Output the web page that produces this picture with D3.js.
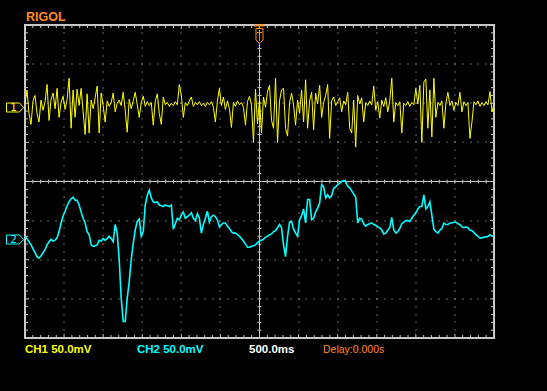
<!DOCTYPE html>
<html><head><meta charset="utf-8">
<script src="https://cdn.jsdelivr.net/npm/d3@7"></script>
<style>html,body{margin:0;padding:0;background:#000;overflow:hidden}svg{display:block}</style>
</head><body>
<svg id="scope" width="547" height="391"></svg>
<script>
// ---- data (mV), CH1 and CH2 samples across the 6 s screen ----
const ch1Values = [4,22,-8,-22,8,15,-8,-19,9,-4,7,29,-17,10,18,-2,24,-13,6,14,
-3,10,37,-27,22,-13,23,2,24,-6,-35,17,-33,9,-2,12,27,-33,18,2,
-19,8,1,6,18,-6,5,9,2,19,-4,-32,10,-2,8,19,3,-13,6,14,
1,7,2,6,-23,8,17,-8,-22,13,3,6,1,5,2,7,3,29,15,-13,
6,2,8,13,1,6,3,7,2,5,1,6,3,7,0,-19,8,24,2,13,
-3,8,-2,-26,6,1,8,3,6,0,-23,7,14,3,-45,23,-21,10,-33,13,
0,20,28,-17,-27,37,-45,8,22,24,-27,-37,6,18,3,-23,9,-8,22,-19,
35,-27,8,19,-29,18,4,28,-13,6,15,29,-40,8,13,2,7,12,-6,8,
3,19,-27,-33,9,-51,15,4,12,-19,6,2,8,3,27,-4,7,-14,9,1,
12,-6,8,37,-19,6,2,7,-33,5,2,7,1,6,3,24,4,28,-45,32,
36,-27,22,-38,37,-13,6,2,8,-27,5,19,2,8,-4,6,2,19,-6,7,
2,6,-40,-19,7,3,8,1,6,2,7,3,20,-6,4];
const ch2Values = [4,1,-3,-7,-12,-17,-22,-24,-21,-17,-13,-7,-3,0,-2,-1,2,10,21,30,
36,43,48,52,54,50,50,44,35,27,21,10,6,-7,-9,-8,-7,-1,-2,1,
-1,1,4,1,-3,19,8,-26,-75,-105,-105,-75,-54,-26,-5,12,23,26,4,10,
44,56,63,53,48,47,48,44,43,42,44,43,42,44,13,20,27,25,31,35,
27,29,31,34,27,24,33,27,8,19,27,36,22,29,31,29,25,16,19,21,
21,17,14,10,8,8,6,4,1,-2,-6,-10,-10,-9,-8,-7,-4,-2,-1,0,
3,4,6,7,10,11,15,19,15,-7,-22,4,22,23,13,8,4,25,30,39,
21,51,51,25,27,35,40,46,70,67,53,57,53,56,65,67,70,72,74,75,
74,68,66,62,58,54,21,27,26,20,17,19,20,21,19,18,16,15,12,7,
8,12,15,28,12,8,10,14,20,22,24,24,23,27,31,34,39,42,42,57,
39,42,48,31,13,10,8,12,14,21,19,19,21,21,22,22,20,19,16,15,
16,15,12,11,9,6,4,2,2,3,3,4,6,4,4];
const timePerDiv = 500;   // ms / div
const voltPerDiv = 50;    // mV / div
const hDivs = 12, vDivs = 8, subDivs = 5;
const ch1Offset = 95;     // mV
const ch2Offset = -74;    // mV
const brandLabel = "RIGOL";
const statusLabels = ["CH1 50.0mV", "CH2 50.0mV", "500.0ms", "Delay:0.000s"];
const statusColors = ["#ffff00", "#00ffff", "#ffffff", "#ff8c1a"];
const channelNames = ["1", "2"];

// ---- scales ----
const svg = d3.select("#scope");
const frame = {x0: 25, x1: 494, y0: 25, y1: 338};
const tHalf = timePerDiv * hDivs / 2;
const vHalf = voltPerDiv * vDivs / 2;
const x = d3.scaleLinear().domain([-tHalf, tHalf]).range([frame.x0, frame.x1]);
const y = d3.scaleLinear().domain([-vHalf, vHalf]).range([frame.y1, frame.y0]);

svg.append("rect").attr("width", 547).attr("height", 391).attr("fill", "#000");

const gridCol = "#c8c8c8";
const majorT = d3.range(-tHalf, tHalf + 1, timePerDiv);
const minorT = d3.range(-tHalf, tHalf + 1, timePerDiv / subDivs);
const majorV = d3.range(-vHalf, vHalf + 1, voltPerDiv);
const minorV = d3.range(-vHalf, vHalf + 1, voltPerDiv / subDivs);

// dotted grid
const g = svg.append("g");
const dots = [];
majorT.slice(1, -1).forEach(t => { if (t !== 0) minorV.slice(1, -1).forEach(v => dots.push([t, v])); });
majorV.slice(1, -1).forEach(v => { if (v !== 0) minorT.slice(1, -1).forEach(t => dots.push([t, v])); });
g.selectAll("rect.dot").data(dots).join("rect").attr("class", "dot")
  .attr("x", d => Math.round(x(d[0])) - 0.5).attr("y", d => Math.round(y(d[1])) - 0.5)
  .attr("width", 1).attr("height", 1).attr("fill", gridCol);

// center lines
g.append("line").attr("x1", x(0)).attr("x2", x(0)).attr("y1", frame.y0).attr("y2", frame.y1)
  .attr("stroke", gridCol).attr("stroke-width", 1);
g.append("line").attr("y1", y(0)).attr("y2", y(0)).attr("x1", frame.x0).attr("x2", frame.x1)
  .attr("stroke", gridCol).attr("stroke-width", 1);
g.selectAll("line.ct").data(minorV.slice(1, -1)).join("line").attr("class", "ct")
  .attr("x1", x(0) - 2).attr("x2", x(0) + 2).attr("y1", d => y(d)).attr("y2", d => y(d))
  .attr("stroke", gridCol);
g.selectAll("line.cv").data(minorT.slice(1, -1)).join("line").attr("class", "cv")
  .attr("y1", y(0) - 2).attr("y2", y(0) + 2).attr("x1", d => x(d)).attr("x2", d => x(d))
  .attr("stroke", gridCol);

// border ticks
const tl = d => (majorT.includes(d) ? 4 : 3);
const vl = d => (majorV.includes(d) ? 4 : 3);
g.selectAll("line.bt").data(minorT.slice(1, -1)).join("line").attr("class", "bt")
  .attr("x1", d => x(d)).attr("x2", d => x(d)).attr("y1", frame.y0).attr("y2", d => frame.y0 + tl(d))
  .attr("stroke", gridCol);
g.selectAll("line.bb").data(minorT.slice(1, -1)).join("line").attr("class", "bb")
  .attr("x1", d => x(d)).attr("x2", d => x(d)).attr("y1", frame.y1).attr("y2", d => frame.y1 - tl(d))
  .attr("stroke", gridCol);
g.selectAll("line.bl").data(minorV.slice(1, -1)).join("line").attr("class", "bl")
  .attr("y1", d => y(d)).attr("y2", d => y(d)).attr("x1", frame.x0).attr("x2", d => frame.x0 + vl(d))
  .attr("stroke", gridCol);
g.selectAll("line.br").data(minorV.slice(1, -1)).join("line").attr("class", "br")
  .attr("y1", d => y(d)).attr("y2", d => y(d)).attr("x1", frame.x1).attr("x2", d => frame.x1 - vl(d))
  .attr("stroke", gridCol);

// frame
g.append("rect").attr("x", frame.x0).attr("y", frame.y0)
  .attr("width", frame.x1 - frame.x0).attr("height", frame.y1 - frame.y0)
  .attr("fill", "none").attr("stroke", gridCol).attr("stroke-width", 2);

// traces
const tOf = (i, n) => -tHalf + (2 * tHalf) * i / (n - 1);
function trace(values, offset, color, width) {
  const line = d3.line().x((d, i) => x(tOf(i, values.length))).y(d => y(d + offset));
  svg.append("path").datum(values).attr("d", line).attr("fill", "none")
    .attr("stroke", color).attr("stroke-width", width).attr("stroke-linejoin", "miter");
}
trace(ch1Values, ch1Offset, "#ffff00", 1.0);
trace(ch2Values, ch2Offset, "#00ffff", 1.6);

// channel markers
function marker(offset, name, color) {
  const cy = Math.round(y(offset)) + 0.5;
  const pts = [[6.5, cy - 4.5], [19.5, cy - 4.5], [23.5, cy], [19.5, cy + 4.5], [6.5, cy + 4.5]];
  svg.append("polygon").attr("points", pts.map(p => p.join(",")).join(" "))
    .attr("fill", "none").attr("stroke", color).attr("stroke-width", 1);
  svg.append("text").attr("x", 13.5).attr("y", cy + 3.8).attr("text-anchor", "middle")
    .attr("font-family", "DejaVu Sans, sans-serif").attr("font-size", 10.5).attr("fill", color).text(name);
}
marker(ch1Offset, channelNames[0], "#ffff00");
marker(ch2Offset, channelNames[1], "#00ffff");

// trigger marker
const trig = "#ff8c1a";
const tx = x(0);
svg.append("rect").attr("x", tx - 5).attr("y", 24.5).attr("width", 10).attr("height", 2).attr("fill", trig);
svg.append("polygon")
  .attr("points", [[tx - 3.5, 28.5], [tx + 3.5, 28.5], [tx + 3.5, 40], [tx, 43.5], [tx - 3.5, 40]].map(p => p.join(",")).join(" "))
  .attr("fill", "#000").attr("stroke", trig).attr("stroke-width", 1);
svg.append("line").attr("x1", tx - 2.5).attr("x2", tx + 2.5).attr("y1", 32.5).attr("y2", 32.5).attr("stroke", trig);
svg.append("line").attr("x1", tx).attr("x2", tx).attr("y1", 30).attr("y2", 41).attr("stroke", trig);

// labels
svg.append("text").attr("x", 26).attr("y", 21).attr("font-family", "Liberation Sans, Arial, sans-serif")
  .attr("font-weight", "bold").attr("font-size", 12.5).attr("fill", "#ff8c1a").text(brandLabel);
const statusX = [25, 137, 249, 323];
statusLabels.forEach((s, i) => {
  svg.append("text").attr("x", statusX[i]).attr("y", 352.5)
    .attr("font-family", "Liberation Sans, Arial, sans-serif")
    .attr("font-weight", i === 3 ? "normal" : "bold")
    .attr("font-size", i === 3 ? 10.5 : 11.5).attr("fill", statusColors[i]).text(s);
});
</script>
</body></html>
